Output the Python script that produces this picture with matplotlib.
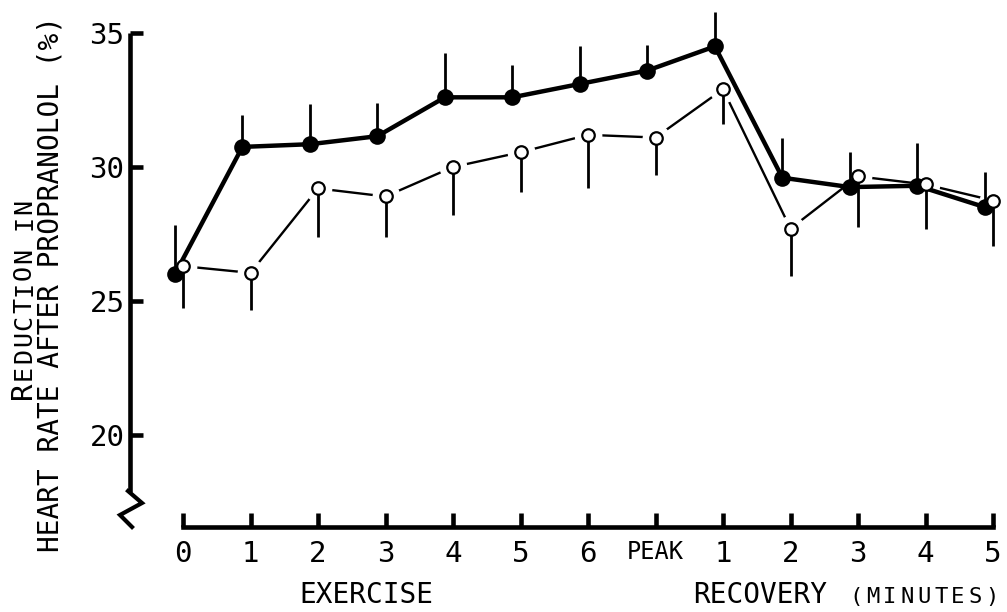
# Reduction in heart rate after propranolol, exercise + recovery
import numpy as np
import matplotlib.pyplot as plt

W, H = 1007, 612

tick_labels = ["0", "1", "2", "3", "4", "5", "6", "PEAK", "1", "2", "3", "4", "5"]

# filled circles, thick line, error bars drawn upward
filled_mean = [26.0, 30.75, 30.85, 31.15, 32.6, 32.6, 33.1, 33.6, 34.5, 29.6, 29.25, 29.3, 28.5]
filled_err = [1.85, 1.2, 1.5, 1.25, 1.65, 1.2, 1.4, 0.95, 1.3, 1.5, 1.3, 1.6, 1.3]

# open circles, thin line, error bars drawn downward
open_mean = [26.3, 26.05, 29.2, 28.9, 30.0, 30.55, 31.2, 31.1, 32.9, 27.7, 29.65, 29.35, 28.75]
open_err = [1.55, 1.4, 1.8, 1.5, 1.8, 1.5, 2.0, 1.4, 1.3, 1.75, 1.9, 1.65, 1.7]

plt.rcParams['font.family'] = ['DejaVu Sans Mono', 'DejaVu Sans']

# ---------- layout (pixel based) ----------
x0_px, dx_px = 183, 67.5      # px of first tick, px per category
y35_px, dy_px = 33, 26.8      # px of y=35, px per unit
xlim = (-0.785, 12.2)
ylim = (16.55, 36.0)

def fx(px):
    return px / W

def fy(py):
    return 1 - py / H

def px2data(px, py):
    return (px - x0_px) / dx_px, 35 - (py - y35_px) / dy_px

left_px = x0_px + xlim[0] * dx_px
right_px = x0_px + xlim[1] * dx_px
top_px = y35_px - (ylim[1] - 35) * dy_px
bot_px = y35_px + (35 - ylim[0]) * dy_px

fig = plt.figure(figsize=(W / 100, H / 100), dpi=100)
ax = fig.add_axes([fx(left_px), fy(bot_px), (right_px - left_px) / W, (bot_px - top_px) / H])
ax.set_xlim(*xlim)
ax.set_ylim(*ylim)

for s in ["top", "right"]:
    ax.spines[s].set_visible(False)
ax.spines["left"].set_linewidth(3.3)
ax.spines["bottom"].set_linewidth(3.3)
ax.spines["left"].set_bounds(px2data(0, 492)[1], 35)
ax.spines["bottom"].set_bounds(0, 12)
ax.spines["left"].set_capstyle("butt")

ax.set_yticks([20, 25, 30, 35])
ax.set_xticks(range(len(tick_labels)))
ax.set_xticklabels(tick_labels)
ax.tick_params(axis="y", direction="in", length=9, width=3.3, labelsize=21, pad=4)
ax.tick_params(axis="x", direction="in", length=10, width=3.3, labelsize=21, pad=9)
ax.get_xticklabels()[7].set_fontsize(17)

# axis break squiggle at the foot of the y axis
sq = [px2data(p, q) for p, q in [(128, 491), (142, 503), (120, 515), (132, 527)]]
ax.plot([a for a, b in sq], [b for a, b in sq], color="black", lw=3.0,
        solid_joinstyle="miter", clip_on=False)

# ---------- data ----------
x = np.arange(len(filled_mean))
xf = x - 0.12
xo = x + 0.0
zeros = np.zeros(len(x))

ax.plot(xo, open_mean, color="black", lw=1.7, zorder=1)
ax.plot(xo, open_mean, "o", ms=19, color="white", zorder=2)   # gaps round open circles
ax.errorbar(xf, filled_mean, yerr=[zeros, filled_err], fmt="none", ecolor="black",
            elinewidth=2.0, capsize=0, zorder=3, clip_on=False)
ax.errorbar(xo, open_mean, yerr=[open_err, zeros], fmt="none", ecolor="black",
            elinewidth=2.0, capsize=0, zorder=3)
ax.plot(xf, filled_mean, "-o", color="black", lw=3.2, ms=12, mew=0, zorder=4)
ax.plot(xo, open_mean, "o", ms=9, mfc="white", mec="black", mew=1.6, zorder=5)

# ---------- labels ----------
def spaced(x_px, y_px, s, size, pitch, vertical=False):
    # letters placed one by one: the lettering is wide-set small caps
    for i, ch in enumerate(s):
        if vertical:
            fig.text(fx(x_px), fy(y_px - i * pitch), ch, rotation=90, rotation_mode="anchor",
                     ha="center", va="baseline", fontsize=size)
        else:
            fig.text(fx(x_px + i * pitch), fy(y_px), ch, ha="center", va="baseline", fontsize=size)

# y label, two rotated lines
fig.text(fx(31), fy(390), "R", rotation=90, rotation_mode="anchor",
         ha="center", va="baseline", fontsize=21)
spaced(31, 372, "EDUCTION IN", 18, 16.6, vertical=True)
fig.text(fx(59), fy(284), "HEART RATE AFTER PROPRANOLOL (%)", rotation=90,
         rotation_mode="anchor", ha="center", va="baseline", fontsize=20)

# x labels
fig.text(fx(366), fy(603), "EXERCISE", ha="center", va="baseline", fontsize=20)
fig.text(fx(693), fy(603), "RECOVERY", ha="left", va="baseline", fontsize=20)
spaced(856, 603, "(MINUTES)", 16, 17.0)

fig.savefig("out.png", dpi=100)
